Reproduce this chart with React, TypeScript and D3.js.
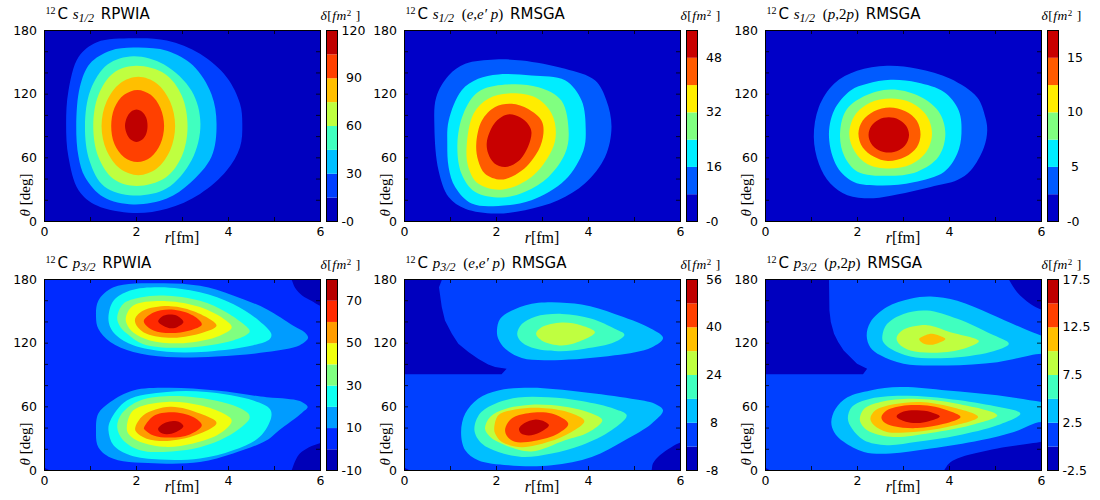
import React, { useEffect, useRef } from 'react';
import * as d3 from 'd3';

type Pt = [number, number];
// band index into the panel's levels, outline as [r, theta], optional straight edges
type Region = [number, Pt[], boolean?];

// contour levels (colorbar edges)
const levelsS1 = [0, 15, 30, 45, 60, 75, 90, 105, 120];
const levelsS2 = [0, 8, 16, 24, 32, 40, 48, 56];
const levelsS3 = [0, 2.5, 5, 7.5, 10, 12.5, 15, 17.5];
const levelsP1 = [-10, 0, 10, 20, 30, 40, 50, 60, 70, 80];
const levelsP2 = [-8, 0, 8, 16, 24, 32, 40, 48, 56];
const levelsP3 = [-2.5, 0, 2.5, 5, 7.5, 10, 12.5, 15, 17.5];

// colorbar tick labels
const ticksS1 = [0, 30, 60, 90, 120];
const ticksS2 = [0, 16, 32, 48];
const ticksS3 = [0, 5, 10, 15];
const ticksP1 = [-10, 10, 30, 50, 70];
const ticksP2 = [-8, 8, 24, 40, 56];
const ticksP3 = [-2.5, 2.5, 7.5, 12.5, 17.5];

// gap between colorbar and each of its labels
const padS1 = [4.5, 9, 9, 9, 4.5];
const padS2 = [9, 9, 9, 9];
const padS3 = [9, 13, 9, 9];
const padP1 = [4.5, 9, 9, 9, 9];
const padP2 = [9, 13, 9, 9, 9];
const padP3 = [4.5, 4.5, 4.5, 4.5, 4.5];

const rTicks = [0, 1, 2, 3, 4, 5, 6];
const rLabels = [0, 2, 4, 6];
const thetaTicks = [0, 20, 40, 60, 80, 100, 120, 140, 160, 180];
const thetaLabels = [0, 60, 120, 180];

// s1/2 RPWIA
const regionsS1: Region[] = [
  [1, [[.47,92],[.52,123],[.74,155],[1.14,169],[1.93,172.7],[2.66,170.5],[3.38,158],[3.96,136],[4.25,111],[4.3,92],[4.25,70],[3.96,48],[3.38,26],[2.66,12],[1.93,8],[1.14,15],[.74,29.5],[.52,61]]],
  [2, [[.69,90],[.77,127],[.99,149],[1.43,161],[1.93,164],[2.66,161],[3.23,147],[3.63,120],[3.74,92],[3.63,61],[3.16,36],[2.66,21.6],[1.93,16],[1.28,23],[.88,42],[.74,61]]],
  [3, [[.88,90],[1,124],[1.37,148],[1.93,155.8],[2.6,148],[3.2,123],[3.39,92],[3.2,58],[2.65,31],[1.93,24.5],[1.3,33],[.98,57]]],
  [4, [[1.06,90],[1.17,119],[1.5,140],[2,146.7],[2.62,139],[2.98,119],[3.11,90],[2.98,61],[2.62,41],[2,33.5],[1.5,40],[1.17,61]]],
  [5, [[1.24,90],[1.35,113],[1.64,130],[2.04,136.3],[2.44,130],[2.73,113],[2.84,90],[2.73,67],[2.44,50],[2.04,43.7],[1.64,50],[1.35,67]]],
  [6, [[1.45,90],[1.52,107],[1.73,119.4],[2.02,124],[2.31,119.4],[2.52,107],[2.6,90],[2.52,73],[2.31,60.6],[2.02,56],[1.73,60.6],[1.52,73]]],
  [7, [[1.75,90],[1.79,98],[1.88,103.5],[2,105.6],[2.12,103.5],[2.21,98],[2.24,90],[2.21,82.5],[2.12,77],[2,75],[1.88,77],[1.79,82.5]]],
];

// s1/2 (e,e'p) RMSGA
const regionsS2: Region[] = [
  [1, [[.65,89],[.69,117],[.96,137.6],[1.32,148.6],[1.97,152.7],[2.55,151.7],[3.49,143.9],[4.14,133],[4.39,114],[4.5,89],[4.36,60.8],[3.92,35.7],[3.34,20],[2.62,10.7],[1.97,7.5],[1.32,12],[.96,23],[.74,48]]],
  [2, [[.93,73],[.96,95],[1.24,123.5],[1.6,134.5],[2.04,138.6],[2.76,137.6],[3.49,133],[3.85,114],[3.94,86],[3.89,67],[3.49,39],[2.76,20],[2.04,14.7],[1.46,17],[1.1,32.6],[.96,51]]],
  [3, [[1.15,73],[1.28,101.6],[1.6,122],[2.19,129],[2.91,126.6],[3.41,114],[3.57,83],[3.49,64],[3.13,42],[2.62,28],[2.11,22.6],[1.53,28],[1.24,45]]],
  [4, [[1.35,70],[1.5,101.6],[1.82,115.7],[2.26,120.7],[2.84,117],[3.2,101.6],[3.29,83],[3.2,67],[2.76,42],[2.11,30],[1.6,35.7],[1.39,51]]],
  [5, [[1.56,73],[1.68,95],[1.97,108],[2.33,111],[2.69,106],[2.98,95],[3.02,83],[2.91,67],[2.55,48],[2.11,39.5],[1.75,45],[1.6,57.7]]],
  [6, [[1.79,75],[1.93,91],[2.11,98.5],[2.29,101],[2.52,98],[2.7,91],[2.76,84],[2.69,71],[2.48,57],[2.19,51.4],[1.95,55],[1.82,64]]],
];

// s1/2 (p,2p) RMSGA
const regionsS3: Region[] = [
  [1, [[1.05,79.6],[1.16,107.8],[1.49,129.8],[1.99,142],[2.64,146.7],[3.3,144],[4.02,134.5],[4.6,117],[4.78,98],[4.82,86],[4.75,70],[4.46,48],[4.17,39],[3.59,32.6],[2.86,25.4],[2.35,22],[1.78,24.8],[1.41,35.7],[1.16,54.5]]],
  [2, [[1.38,79.6],[1.49,104.7],[1.85,123.5],[2.21,129.8],[2.72,133.5],[3.3,131],[3.88,122],[4.2,104.7],[4.26,83],[4.17,64],[3.88,46.7],[3.22,37],[2.5,34],[1.92,37.3],[1.56,51.4]]],
  [3, [[1.62,80],[1.74,104],[2.14,118],[2.72,124.5],[3.3,119],[3.76,104],[3.91,83],[3.76,61],[3.3,47],[2.64,43],[2,47],[1.72,61]]],
  [4, [[1.82,82],[1.94,100],[2.27,112],[2.72,116],[3.17,112],[3.5,100],[3.62,83],[3.5,66],[3.17,54],[2.68,50],[2.22,54],[1.94,66]]],
  [5, [[2.02,83],[2.11,95],[2.36,104],[2.7,107.5],[3.04,104],[3.29,95],[3.37,82],[3.29,70],[3.04,61],[2.66,57],[2.36,61],[2.11,70]]],
  [6, [[2.24,81.6],[2.3,90],[2.46,96],[2.68,98.2],[2.9,96],[3.06,90],[3.12,81.6],[3.06,73.3],[2.9,67.2],[2.68,65],[2.46,67.2],[2.3,73.3]]],
];

// p3/2 RPWIA
const regionsP1: Region[] = [
  [0, [[5.37,180],[5.45,172],[5.6,165],[5.8,160],[6,155],[6.3,150],[6.3,185],[5.3,186]]],
  [0, [[5.37,0],[5.45,9],[5.55,16],[5.75,22],[6,26],[6.3,31],[6.3,-5],[5.3,-6]]],
  [0, [[-.1,-.1],[.12,-.1],[-.1,5]], true],
  [2, [[1.12,144.5],[1.17,160],[1.5,172.7],[2.51,176.5],[3.38,174],[4.1,165],[4.83,152],[5.4,136.7],[5.66,130],[5.73,125],[5.55,118],[4.83,111.6],[3.74,107.5],[2.66,107],[1.93,111.6],[1.43,121],[1.17,133.5]]],
  [2, [[1.12,38],[1.17,53.6],[1.43,64.6],[1.93,75.5],[2.66,78],[3.74,75.5],[4.83,69],[5.26,67.7],[5.55,65.5],[5.72,60],[5.6,54.5],[5.1,38],[4.83,28.5],[4.1,16],[3.38,8],[2.51,6.6],[1.5,11],[1.17,22]]],
  [3, [[1.39,144.5],[1.5,160],[1.86,169.6],[2.51,172.7],[3.38,168],[4.1,157],[4.67,141],[4.93,128.8],[4.9,124],[4.54,118],[3.52,112],[2.66,112],[1.93,118],[1.57,127],[1.43,135]]],
  [3, [[1.39,38],[1.43,47],[1.79,66],[2.66,74],[3.52,74],[4.54,66],[4.9,58],[4.93,50.5],[4.68,31.7],[4.1,19],[3.38,11.3],[2.51,10.3],[1.86,14.4],[1.5,23.8]]],
  [4, [[1.58,144.5],[1.71,157],[2.08,163],[2.58,165],[3.38,160],[3.96,149],[4.46,132],[4.43,129],[4.1,122.6],[3.02,115.7],[2.15,119],[1.79,129],[1.63,136.7]]],
  [4, [[1.58,41],[1.68,53.6],[2.08,66],[3.02,70],[4.1,61.4],[4.43,53.6],[4.46,50.5],[4.43,47],[3.96,31.7],[3.38,22],[2.58,17.5],[2.08,19],[1.71,28.5]]],
  [5, [[1.77,144.5],[1.93,155.5],[2.66,159.6],[3.38,154],[3.89,143],[4.07,135],[3.81,127],[3.02,120],[2.29,122.6],[1.93,130],[1.79,138]]],
  [5, [[1.79,41],[1.93,56.7],[2.66,64.6],[3.38,61.4],[3.89,53.6],[4.07,47],[3.81,34.8],[3.23,25.4],[2.58,22.3],[2,28.5],[1.82,34.8]]],
  [6, [[1.97,143],[2.15,150.8],[2.73,154.9],[3.31,149],[3.74,136.7],[3.45,130],[2.8,125],[2.22,128.8],[2,136.7]]],
  [6, [[1.97,39.5],[2.15,52],[2.73,60],[3.38,53.6],[3.74,44.8],[3.38,34.8],[2.73,28],[2.22,30],[2,36]]],
  [7, [[2.16,141.4],[2.37,149],[2.76,151.7],[3.23,146],[3.42,137.6],[3.16,132],[2.73,129.5],[2.37,132],[2.19,137.6]]],
  [7, [[2.16,39.5],[2.37,51.4],[2.76,55],[3.23,50.5],[3.42,42.6],[3.16,34],[2.73,31],[2.37,33],[2.19,38]]],
  [8, [[2.47,140.7],[2.55,145],[2.7,147],[2.87,146],[3.02,140],[2.9,135.5],[2.76,134],[2.58,136.5]]],
  [8, [[2.47,39.5],[2.6,44.5],[2.76,46.4],[2.92,46],[3.02,41.7],[2.85,36],[2.65,34.2],[2.5,36.5]]],
];

// p3/2 (e,e'p) RMSGA
const regionsP2: Region[] = [
  [0, [[-.1,90.6],[2.11,90.6],[2.22,96],[1.97,97.5],[1.82,100],[1.6,105.3],[1.39,111.6],[1.17,119.4],[1.03,128.8],[.88,141.4],[.81,154],[.75,172.7],[.82,180.5],[-.1,180.5]], true],
  [0, [[5.37,0],[5.4,6.6],[5.55,14.4],[5.8,22],[6,26.3],[6.3,31],[6.3,-5],[5.3,-6]]],
  [0, [[-.1,-.1],[.12,-.1],[-.1,5]], true],
  [2, [[2.01,132],[2.08,143],[2.4,152],[2.91,158],[3.85,156.4],[4.57,147.6],[5.3,135],[5.62,125],[5.37,116],[4.57,108.5],[3.27,104],[2.55,106],[2.19,114.7],[2.04,124]]],
  [2, [[1.23,36],[1.32,53.6],[1.6,67.7],[2.04,75.5],[2.76,78],[3.85,74],[4.93,67.7],[5.44,63],[5.62,56.7],[5.37,44],[4.79,28.5],[4.07,12.8],[3.2,5],[2.26,5],[1.6,9.7],[1.32,19]]],
  [3, [[2.45,129],[2.55,138],[2.84,145],[3.42,147.6],[4.07,143],[4.57,133.5],[4.78,128],[4.57,121],[3.92,114.7],[3.34,112.5],[2.76,116],[2.51,122.6]]],
  [3, [[1.52,38],[1.64,53.6],[1.97,63],[2.47,68.7],[3.13,69],[3.85,65.5],[4.57,58],[4.83,52],[4.5,38],[3.85,23.8],[3.2,16],[2.55,12.8],[2.04,17.5],[1.68,25.4]]],
  [4, [[2.86,129],[2.98,135],[3.42,139.5],[3.85,136.7],[4.14,130.4],[3.85,122.6],[3.42,117.9],[2.98,122.6]]],
  [4, [[1.75,39.5],[1.86,50.5],[2.19,58],[2.76,62],[3.49,60],[4.07,53.6],[4.3,47.3],[4,36],[3.49,28.5],[2.76,18],[2.19,23.8],[1.86,31.7]]],
  [5, [[1.95,39.5],[2.04,52],[2.4,57.4],[2.98,59],[3.56,55],[3.91,46.7],[3.63,36.4],[3.13,27],[2.55,22],[2.11,27],[1.97,34.8]]],
  [6, [[2.19,39.5],[2.33,49],[2.69,54],[3.2,53.6],[3.56,44],[3.34,34.8],[2.84,28],[2.4,27],[2.22,33]]],
  [7, [[2.49,39.5],[2.6,44.5],[2.85,48],[3.05,46],[3.14,42.6],[2.95,36],[2.7,33],[2.53,35]]],
];

// p3/2 (p,2p) RMSGA
const regionsP3: Region[] = [
  [0, [[-.1,90.6],[2.12,90.6],[2.21,96],[1.99,100.6],[1.7,113],[1.58,121],[1.49,128.8],[1.42,140],[1.39,150.8],[1.38,180.5],[-.1,180.5]], true],
  [0, [[5.29,180],[5.47,168],[5.76,157],[6,151.4],[6.3,146],[6.3,185],[5.2,186]]],
  [0, [[3.88,-.1],[3.99,6.6],[4.17,11.3],[5.04,20.7],[6,27],[6.3,30],[6.3,-6],[3.8,-6]]],
  [0, [[-.1,-.1],[.1,-.1],[-.1,5]], true],
  [2, [[2.2,127],[2.28,139.8],[2.64,154],[3.15,161.8],[3.59,164],[4.17,160],[4.89,147.6],[5.62,133.5],[6,127],[6.4,120],[6.4,108],[6,110],[5.04,102],[3.95,99],[3,100.6],[2.5,108.5],[2.28,116]]],
  [2, [[1.43,45.8],[1.52,58],[1.78,69],[2.28,75.5],[2.93,78.7],[3.95,75.5],[5.04,70.8],[6,64.6],[6.4,62],[6.4,40],[6,45.8],[5.4,36.4],[4.67,28.5],[3.59,20.7],[2.72,16],[2.14,17.5],[1.7,27],[1.49,36.4]]],
  [3, [[2.54,127],[2.64,138],[3,147.6],[3.51,150.8],[4.17,143],[4.89,128.8],[5.29,119.4],[4.89,111.6],[3.95,106],[3.15,107.5],[2.72,114.7],[2.56,121]]],
  [3, [[1.79,49],[1.88,60],[2.28,67.7],[3.08,70.5],[3.95,67.7],[4.89,61.4],[5.54,53.6],[5.04,42.6],[4.17,33],[3.3,27],[2.64,23.8],[2.14,28.5],[1.88,39.5]]],
  [4, [[2.85,125],[2.97,132],[3.51,137],[4.02,130.4],[4.64,122],[4.31,114.7],[3.73,111],[3.15,113],[2.9,119.4]]],
  [4, [[2.05,49],[2.14,58],[2.5,64.6],[3.22,67.7],[4.17,63],[5.04,52],[4.46,42.6],[3.59,35.4],[2.72,31.7],[2.21,38],[2.08,44]]],
  [5, [[3.34,124],[3.48,127.5],[3.62,128.8],[3.78,127],[3.91,124],[3.75,120],[3.6,118.5],[3.42,120]]],
  [5, [[2.28,49],[2.39,56.7],[2.79,62.4],[3.37,64.6],[4.02,60],[4.62,50.5],[3.95,41],[3.22,36.4],[2.64,36.4],[2.36,42.6]]],
  [6, [[2.52,50.5],[2.64,56.7],[3.08,61.4],[3.59,60.8],[3.95,56.7],[4.24,50.5],[3.88,44],[3.3,40],[2.79,41.7],[2.57,45.8]]],
  [7, [[2.85,51],[3,55.5],[3.3,56.7],[3.6,55],[3.79,51],[3.55,46.5],[3.3,44.8],[3.05,46]]],
];

type Part = [string, 'sup' | 'sans' | 'math' | 'sub' | 'serif' | 'open'];
const orbS: Part[] = [['12', 'sup'], ['C ', 'sans'], ['s', 'math'], ['1/2', 'sub']];
const orbP: Part[] = [['12', 'sup'], ['C ', 'sans'], ['p', 'math'], ['3/2', 'sub']];
const rpwia: Part[] = [[' RPWIA', 'sans']];
const eep: Part[] = [[' (', 'open'], ['e,e′ p', 'math'], [')', 'serif'], [' RMSGA', 'sans']];
const p2p: Part[] = [[' (', 'open'], ['p', 'math'], [',2', 'serif'], ['p', 'math'], [')', 'serif'], [' RMSGA', 'sans']];

const width = 276;
const height = 191;
const sans = '"DejaVu Sans", sans-serif';
const serif = '"Liberation Serif", serif';

const partStyle: Record<Part[1], { fontFamily: string; fontSize: number; fontStyle?: string; shift: number; dx: number }> = {
  sup: { fontFamily: serif, fontSize: 10, shift: -5, dx: 0 },
  sans: { fontFamily: sans, fontSize: 15, shift: 0, dx: 2 },
  math: { fontFamily: serif, fontSize: 15, fontStyle: 'italic', shift: 0, dx: 0 },
  sub: { fontFamily: serif, fontSize: 12, fontStyle: 'italic', shift: 3, dx: 0 },
  serif: { fontFamily: serif, fontSize: 15, shift: 0, dx: 0 },
  open: { fontFamily: serif, fontSize: 15, shift: 0, dx: 4 },
};

// old matplotlib style jet, sampled at the middle of each band
const jet = (t: number) => {
  const c = (v: number) => Math.round(255 * Math.min(1, Math.max(0, 1.5 - Math.abs(4 * t - v))));
  return d3.rgb(c(3), c(2), c(1)).formatHex();
};

interface PanelProps {
  left: number;
  top: number;
  id: string;
  title: Part[];
  levels: number[];
  ticks: number[];
  pads: number[];
  regions: Region[];
  baseBand: number;
}

const Panel: React.FC<PanelProps> = ({ left, top, id, title, levels, ticks, pads, regions, baseBand }) => {
  const axesRef = useRef<SVGGElement>(null);

  const x = d3.scaleLinear().domain([0, 6]).range([0, width]);
  const y = d3.scaleLinear().domain([0, 180]).range([height, 0]);
  const c = d3.scaleLinear().domain([levels[0], levels[levels.length - 1]]).range([height, 0]);
  const n = levels.length - 1;
  const color = (band: number) => jet((band + 0.5) / n);

  const outline = (pts: Pt[], straight?: boolean) =>
    d3.line<Pt>()
      .x(d => x(d[0]))
      .y(d => y(d[1]))
      .curve(straight ? d3.curveLinearClosed : d3.curveCatmullRomClosed.alpha(0.5))(pts) as string;

  useEffect(() => {
    const g = d3.select(axesRef.current);
    g.selectAll('*').remove();

    const fmtR = (d: d3.NumberValue) => (rLabels.includes(+d) ? `${d}` : '');
    const fmtT = (d: d3.NumberValue) => (thetaLabels.includes(+d) ? `${d}` : '');

    g.append('g').attr('transform', `translate(0,${height})`)
      .call(d3.axisBottom(x).tickValues(rTicks).tickSize(-4).tickPadding(6).tickFormat(fmtR));
    g.append('g')
      .call(d3.axisTop(x).tickValues(rTicks).tickSize(-4).tickFormat(() => ''));
    g.append('g')
      .call(d3.axisLeft(y).tickValues(thetaTicks).tickSize(-4).tickPadding(7).tickFormat(fmtT));
    g.append('g').attr('transform', `translate(${width},0)`)
      .call(d3.axisRight(y).tickValues(thetaTicks).tickSize(-4).tickFormat(() => ''));

    // colorbar labels
    const bar = g.append('g').attr('transform', `translate(${282 + 11},0)`)
      .call(d3.axisRight(c).tickValues(ticks).tickSize(0)
        .tickFormat(d => (+d === 0 ? '-0' : `${d}`)));
    bar.selectAll('text').attr('x', (_, i) => pads[i]);

    g.selectAll('.domain').remove();
    g.selectAll('text').attr('font-family', sans).attr('font-size', 12.5).attr('fill', '#000');
    g.selectAll('line').attr('stroke', '#000').attr('stroke-width', 0.8);
  }, []);

  let prevShift = 0;
  return (
    <g transform={`translate(${left},${top})`}>
      <clipPath id={id}>
        <rect x={0.5} y={0.5} width={width} height={height} />
      </clipPath>
      <g clipPath={`url(#${id})`}>
        <rect x={0} y={0} width={width + 1} height={height + 1} fill={color(baseBand)} />
        <g transform="translate(0.5,0.5)">
          {regions.map(([band, pts, straight], i) => (
            <path key={i} d={outline(pts, straight)} fill={color(band)} />
          ))}
        </g>
      </g>
      <rect x={0.5} y={0.5} width={width} height={height} fill="none" stroke="#000" strokeWidth={1} />

      {levels.slice(0, -1).map((lv, i) => (
        <rect key={lv} x={282.5} y={c(levels[i + 1]) + 0.5} width={11} height={c(lv) - c(levels[i + 1])} fill={color(i)} />
      ))}
      <rect x={282.5} y={0.5} width={11} height={height} fill="none" stroke="#000" strokeWidth={1} />

      <g ref={axesRef} />

      <text x={1.5} y={-11} fill="#000" style={{ whiteSpace: 'pre' }}>
        {title.map(([t, kind], i) => {
          const st = partStyle[kind];
          const dy = st.shift - prevShift;
          prevShift = st.shift;
          return (
            <tspan key={i} dx={st.dx} dy={dy} fontFamily={st.fontFamily} fontSize={st.fontSize} fontStyle={st.fontStyle}>{t}</tspan>
          );
        })}
      </text>

      <text x={276.5} y={-10} fontFamily={serif} fontSize={13.5} letterSpacing={0.5} fill="#000" style={{ whiteSpace: 'pre' }}>
        <tspan fontStyle="italic">δ</tspan>[<tspan fontStyle="italic">fm</tspan>
        <tspan dy={-4.5} fontSize={9}>2</tspan><tspan dy={4.5}> ]</tspan>
      </text>

      <text x={138} y={213} textAnchor="middle" fontFamily={serif} fontSize={16} fill="#000">
        <tspan fontStyle="italic">r</tspan>[fm]
      </text>
      <text transform={`translate(-14,165) rotate(-90)`} textAnchor="middle" fontFamily={serif} fontSize={15} fill="#000" style={{ whiteSpace: 'pre' }}>
        <tspan fontStyle="italic">θ</tspan> [deg]
      </text>
    </g>
  );
};

const App: React.FC = () => (
  <svg width={1100} height={500} style={{ position: 'absolute', left: 0, top: 0, background: '#fff' }}>
    <Panel id="s1" left={44} top={30} title={[...orbS, ...rpwia]} levels={levelsS1} ticks={ticksS1} pads={padS1} regions={regionsS1} baseBand={0} />
    <Panel id="s2" left={404} top={30} title={[...orbS, ...eep]} levels={levelsS2} ticks={ticksS2} pads={padS2} regions={regionsS2} baseBand={0} />
    <Panel id="s3" left={765} top={30} title={[...orbS, ...p2p]} levels={levelsS3} ticks={ticksS3} pads={padS3} regions={regionsS3} baseBand={0} />
    <Panel id="p1" left={44} top={279} title={[...orbP, ...rpwia]} levels={levelsP1} ticks={ticksP1} pads={padP1} regions={regionsP1} baseBand={1} />
    <Panel id="p2" left={404} top={279} title={[...orbP, ...eep]} levels={levelsP2} ticks={ticksP2} pads={padP2} regions={regionsP2} baseBand={1} />
    <Panel id="p3" left={765} top={279} title={[...orbP, ...p2p]} levels={levelsP3} ticks={ticksP3} pads={padP3} regions={regionsP3} baseBand={1} />
  </svg>
);

export default App;
